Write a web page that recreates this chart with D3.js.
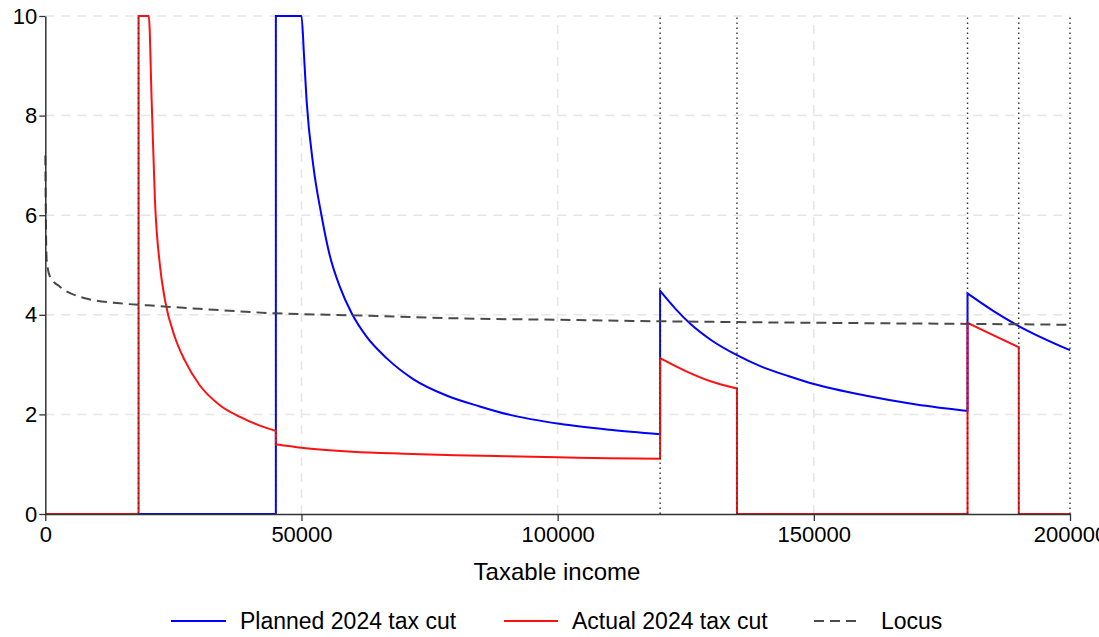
<!DOCTYPE html>
<html>
<head>
<meta charset="utf-8">
<script src="https://cdn.jsdelivr.net/npm/d3@7"></script>
<style>
  body { margin: 0; background: #fff; }
  svg { font-family: "Liberation Sans", Arial, sans-serif; }
</style>
</head>
<body>
<svg id="chart" width="1099" height="637"></svg>
<script>
// values: [taxable income, ratio]
var incomeTicks = [0, 50000, 100000, 150000, 200000];
var rateTicks = [0, 2, 4, 6, 8, 10];
var thresholds = [18200, 45000, 120000, 135000, 180000, 190000, 200000];

var planned = [[0,0],[45000,0],[45000,10],[50000,10],[50500,9.2],[51000,8.3],[52300,7.0],[53900,6.0],
  [55500,5.2],[57500,4.56],[59800,4.03],[62700,3.56],[66600,3.13],[71800,2.71],[78300,2.38],
  [84800,2.16],[90700,1.99],[100400,1.81],[110200,1.69],[120000,1.60],
  [120000,4.48],[123000,4.12],[126000,3.81],[130000,3.49],[135000,3.19],[140000,2.95],[145000,2.77],
  [150000,2.61],[160000,2.38],[170000,2.20],[180000,2.07],
  [180000,4.43],[185000,4.08],[189900,3.78],[200000,3.29]];

var actual = [[0,0],[18200,0],[18200,10],[20200,10],[20760,8.3],[21400,6.3],[22400,4.97],[23350,4.3],
  [25300,3.55],[27200,3.09],[30100,2.59],[34000,2.19],[38000,1.95],[41500,1.79],[45000,1.67],
  [45000,1.40],[50000,1.33],[60000,1.25],[70000,1.21],[80000,1.18],[90000,1.16],[100000,1.14],
  [110000,1.12],[120000,1.11],
  [120000,3.13],[125000,2.87],[130000,2.66],[135000,2.52],[135000,0],[180000,0],
  [180000,3.84],[185000,3.59],[190000,3.35],[190000,0],[200000,0]];

var locus = [[0,7.2],[100,6.0],[270,5.1],[900,4.77],[2900,4.56],[6800,4.36],[14600,4.23],[20000,4.19],
  [30000,4.12],[45000,4.03],[60000,3.99],[80000,3.93],[100000,3.90],[120000,3.87],[150000,3.84],
  [183000,3.815],[200000,3.80]];

var svg = d3.select("#chart");

var x = d3.scaleLinear().domain([0, 200000]).range([45.3, 1070]);
var y = d3.scaleLinear().domain([0, 10]).range([514, 16]);

// grid
svg.append("g").selectAll("line")
  .data(rateTicks.slice(1))
  .enter().append("line")
  .attr("x1", x(0)).attr("x2", x(200000))
  .attr("y1", function(d) { return y(d); }).attr("y2", function(d) { return y(d); })
  .attr("stroke", "#e6e6e6").attr("stroke-width", 1.5).attr("stroke-dasharray", "9,7");

svg.append("g").selectAll("line")
  .data(incomeTicks.slice(1, -1))
  .enter().append("line")
  .attr("y1", y(0)).attr("y2", y(10))
  .attr("x1", function(d) { return x(d); }).attr("x2", function(d) { return x(d); })
  .attr("stroke", "#e6e6e6").attr("stroke-width", 1.5).attr("stroke-dasharray", "9,7");

// smooth between jumps, straight at the jumps
var smooth = d3.line()
  .x(function(d) { return x(d[0]); })
  .y(function(d) { return y(d[1]); })
  .curve(d3.curveMonotoneX);

function jumpPath(data) {
  var pieces = [], cur = [data[0]];
  for (var i = 1; i < data.length; i++) {
    if (data[i][0] === data[i - 1][0]) { pieces.push(cur); cur = [data[i]]; }
    else cur.push(data[i]);
  }
  pieces.push(cur);
  return pieces.map(function(p, i) {
    var s = p.length > 1 ? smooth(p) : "M" + x(p[0][0]) + "," + y(p[0][1]);
    return i === 0 ? s : "L" + s.slice(1);
  }).join("");
}

svg.append("path").attr("d", jumpPath(planned))
  .attr("fill", "none").attr("stroke", "#0000ff").attr("stroke-width", 2);
svg.append("path").attr("d", jumpPath(actual))
  .attr("fill", "none").attr("stroke", "#ff1010").attr("stroke-width", 2);
svg.append("path").attr("d", smooth(locus))
  .attr("fill", "none").attr("stroke", "#4a4a4a").attr("stroke-width", 2)
  .attr("stroke-dasharray", "10,6");

// bracket thresholds
svg.append("g").selectAll("line")
  .data(thresholds)
  .enter().append("line")
  .attr("y1", y(0)).attr("y2", y(10))
  .attr("x1", function(d) { return x(d); }).attr("x2", function(d) { return x(d); })
  .attr("stroke", "#333").attr("stroke-width", 1.4).attr("stroke-dasharray", "1.5,3.5");

// axes
var yAxis = svg.append("g")
  .attr("transform", "translate(" + x(0) + ",0)")
  .call(d3.axisLeft(y).tickValues(rateTicks).tickSize(6).tickPadding(2).tickSizeOuter(0));
var xAxis = svg.append("g")
  .attr("transform", "translate(0," + y(0) + ")")
  .call(d3.axisBottom(x).tickValues(incomeTicks).tickFormat(d3.format("d")).tickSize(7).tickPadding(5).tickSizeOuter(0));

[yAxis, xAxis].forEach(function(a) {
  a.select(".domain").attr("stroke", "#333").attr("stroke-width", 1.5);
  a.selectAll(".tick line").attr("stroke", "#333").attr("stroke-width", 1.3);
  a.selectAll(".tick text").attr("fill", "#000").style("font-size", "22px");
});

svg.append("text")
  .attr("x", 557).attr("y", 580)
  .attr("text-anchor", "middle")
  .style("font-size", "24px")
  .text("Taxable income");

// legend
var legend = [
  { label: "Planned 2024 tax cut", color: "#0000ff", dash: null, x1: 171, x2: 226, tx: 240 },
  { label: "Actual 2024 tax cut", color: "#ff1010", dash: null, x1: 504, x2: 558, tx: 572 },
  { label: "Locus", color: "#4a4a4a", dash: "10,6", x1: 814, x2: 856, tx: 881 }
];
var lg = svg.append("g").selectAll("g").data(legend).enter().append("g");
lg.append("line")
  .attr("x1", function(d) { return d.x1; }).attr("x2", function(d) { return d.x2; })
  .attr("y1", 621).attr("y2", 621)
  .attr("stroke", function(d) { return d.color; }).attr("stroke-width", 2)
  .attr("stroke-dasharray", function(d) { return d.dash; });
lg.append("text")
  .attr("x", function(d) { return d.tx; }).attr("y", 629)
  .style("font-size", "23px")
  .text(function(d) { return d.label; });
</script>
</body>
</html>
